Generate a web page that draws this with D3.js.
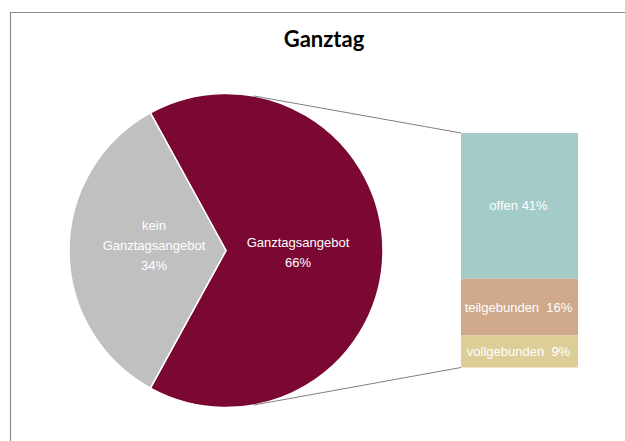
<!DOCTYPE html>
<html><head><meta charset="utf-8">
<script src="https://cdn.jsdelivr.net/npm/d3@7"></script>
<style>
html,body{margin:0;padding:0;background:#fff;}
svg{display:block;}
</style></head>
<body>
<svg id="chart" width="625" height="441"></svg>
<script>
const title = "Ganztag";
const pieCategories = ["Ganztagsangebot", "kein Ganztagsangebot"];
const pieValues = [66, 34];
const pieLabels = [["Ganztagsangebot", "66%"], ["kein", "Ganztagsangebot", "34%"]];
const pieColors = ["#7a0832", "#c0c0c0"];
const barCategories = ["offen", "teilgebunden", "vollgebunden"];
const barValues = [41, 16, 9];
const barLabels = ["offen 41%", "teilgebunden  16%", "vollgebunden  9%"];
const barColors = ["#a3ccc9", "#cfa98a", "#ddcd97"];

(function () {
const svg = d3.select("#chart");
const W = 625, H = 441;
svg.append("rect").attr("width", W).attr("height", H).attr("fill", "#fff");

// chart area border (extends past right/bottom)
svg.append("path")
  .attr("d", "M10.5,441 L10.5,12.5 L625,12.5")
  .attr("fill", "none").attr("stroke", "#8c8c8c").attr("stroke-width", 1.2);

svg.append("text").text(title)
  .attr("x", 324).attr("y", 47)
  .attr("text-anchor", "middle")
  .attr("font-family", "Lato, 'Open Sans', sans-serif")
  .attr("font-weight", "bold").attr("font-size", 22).attr("fill", "#000");

// pie
const cx = 226, cy = 250.5, r = 157;
const frac = pieValues[0] / d3.sum(pieValues);
const start = Math.PI / 2 - frac * Math.PI;
const pie = d3.pie().sort(null).startAngle(start).endAngle(start + 2 * Math.PI);
const arcs = pie(pieValues);
const arc = d3.arc().innerRadius(0).outerRadius(r);
const g = svg.append("g").attr("transform", `translate(${cx},${cy})`);
g.selectAll("path.slice").data(arcs).enter().append("path")
  .attr("class", "slice")
  .attr("d", arc)
  .attr("fill", (d, i) => pieColors[i])
  .attr("stroke", "#fff").attr("stroke-width", 1.5).attr("stroke-linejoin", "round");

// pie labels
const labelPos = [[72, -8], [-72, -25]];
arcs.forEach((d, i) => {
  const t = g.append("text")
    .attr("text-anchor", "middle")
    .attr("font-family", "'Liberation Sans', Arial, sans-serif")
    .attr("font-size", 13).attr("fill", "#fff");
  pieLabels[i].forEach((line, j) => {
    t.append("tspan").attr("x", labelPos[i][0]).attr("y", labelPos[i][1] + j * 20 + 4.5).text(line);
  });
});

// bar
const bx0 = 461, bx1 = 578;
const yScale = d3.scaleLinear().domain([0, d3.sum(barValues)]).range([133, 367.5]);
let cum = 0;
const segs = barValues.map((v, i) => { const s = {i, y0: cum, y1: cum + v}; cum += v; return s; });
svg.selectAll("rect.bar").data(segs).enter().append("rect")
  .attr("class", "bar")
  .attr("x", bx0).attr("width", bx1 - bx0)
  .attr("y", d => yScale(d.y0)).attr("height", d => yScale(d.y1) - yScale(d.y0))
  .attr("fill", d => barColors[d.i]);
svg.selectAll("text.bl").data(segs).enter().append("text")
  .attr("class", "bl")
  .attr("x", (bx0 + bx1) / 2 - 1)
  .attr("y", d => (yScale(d.y0) + yScale(d.y1)) / 2 + 4.5)
  .attr("text-anchor", "middle")
  .attr("xml:space", "preserve")
  .style("white-space", "pre")
  .attr("font-family", "'Liberation Sans', Arial, sans-serif")
  .attr("font-size", 13).attr("fill", "#fff")
  .text(d => barLabels[d.i]);

// connector lines: tangent from bar corners to the circle
function tangent(px, py, upper) {
  const dx = px - cx, dy = py - cy;
  const d = Math.hypot(dx, dy);
  const base = Math.atan2(dy, dx);
  const a = Math.acos(r / d);
  const ang = upper ? base - a : base + a;
  return [cx + r * Math.cos(ang), cy + r * Math.sin(ang)];
}
const pTop = [bx0, yScale(0)], pBot = [bx0, yScale(d3.sum(barValues))];
const t1 = tangent(pTop[0], pTop[1], true), t2 = tangent(pBot[0], pBot[1], false);
[[t1, pTop], [t2, pBot]].forEach(([a, b]) => {
  svg.append("line")
    .attr("x1", a[0]).attr("y1", a[1]).attr("x2", b[0]).attr("y2", b[1])
    .attr("stroke", "#808080").attr("stroke-width", 1);
});
})();
</script>
</body></html>
